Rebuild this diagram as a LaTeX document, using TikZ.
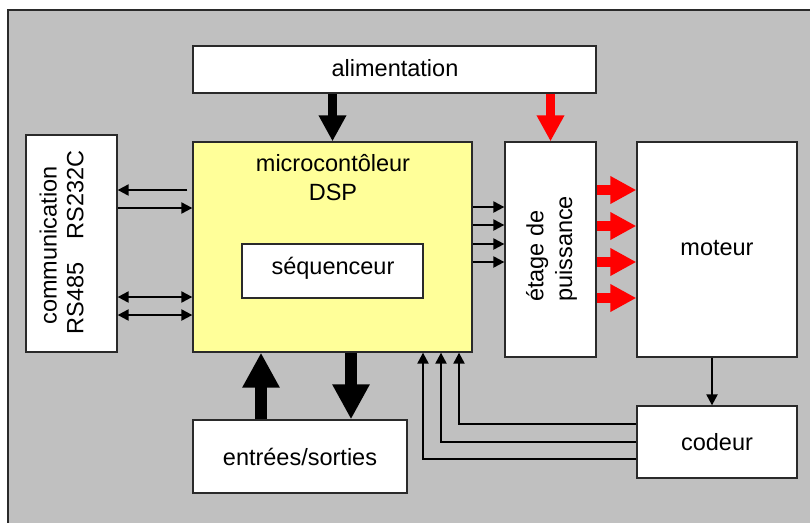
\documentclass[tikz,border=0pt]{standalone}
\usepackage{fontspec}
\setmainfont{Liberation Sans}
\usetikzlibrary{arrows.meta,calc}
\definecolor{bggray}{HTML}{C0C0C0}
\definecolor{dspyellow}{HTML}{FFFF99}
\definecolor{boxline}{HTML}{2A2A2A}
\definecolor{pwred}{HTML}{FF0000}
\begin{document}
\begin{tikzpicture}[x=1pt,y=-1pt,
  box/.style={draw=boxline,line width=1.3pt,fill=white,rectangle,inner sep=0pt},
  lbl/.style={font=\fontsize{23.5}{28}\selectfont,inner sep=0pt,anchor=base},
  rlbl/.style={font=\fontsize{23.5}{28}\selectfont,inner sep=0pt,rotate=90},
  tarr/.style={line width=2.2pt,-{Triangle[length=11pt,width=11pt]}},
  tdbl/.style={line width=2.2pt,{Triangle[length=11pt,width=11pt]}-{Triangle[length=11pt,width=11pt]}},
  fatblack/.style={line width=9pt,-{Triangle[length=26pt,width=26pt]}},
  fatred/.style={pwred,line width=10pt,-{Triangle[length=26pt,width=26pt]}},
  hugeblack/.style={line width=12pt,-{Triangle[length=35pt,width=35pt]}}]
\useasboundingbox (0,0) rectangle (810,522);
\filldraw[fill=bggray,draw=boxline,line width=1.5pt] (8,10) rectangle (830,540);

% boxes
\node[box,minimum width=403pt,minimum height=47pt] (alim) at (394.5,69.5) {};
\node[box,minimum width=91pt,minimum height=217pt] (comm) at (71.5,243.5) {};
\node[box,fill=dspyellow,minimum width=279pt,minimum height=210pt] (micro) at (332.5,247) {};
\node[box,minimum width=181pt,minimum height=54pt] (seq) at (332.5,271) {};
\node[box,minimum width=91pt,minimum height=215pt] (etage) at (550.5,249.5) {};
\node[box,minimum width=160pt,minimum height=215pt] (moteur) at (717,249.5) {};
\node[box,minimum width=160pt,minimum height=72pt] (codeur) at (717,442) {};
\node[box,minimum width=214pt,minimum height=73pt] (es) at (300,456.5) {};

% labels
\node[lbl] (talim) at (395,76) {alimentation};
\node[lbl] (tmicro1) at (333,171.7) {microcontôleur};
\node[lbl] (tmicro2) at (333,200) {DSP};
\node[lbl] (tseq) at (333,274) {séquenceur};
\node[lbl] (tmot) at (717,255) {moteur};
\node[lbl] (tcod) at (717,450) {codeur};
\node[lbl] (tes) at (300,465) {entrées/sorties};
\node[rlbl,anchor=base] (tcomm1) at (56.7,245.5) {communication};
\node[rlbl,anchor=base] (tcomm2) at (83.3,242.5) {RS485\hspace{23.5pt}RS232C};
\node[rlbl,anchor=base west] (tet1) at (543.3,302) {étage de};
\node[rlbl,anchor=base west] (tet2) at (572,302) {puissance};

% communication links
\draw[tarr] ($(micro.west |- 0,190)+(-5,0)$) -- (comm.east |- 0,190);
\draw[tarr] (comm.east |- 0,208) -- (micro.west |- 0,208);
\draw[tdbl] (comm.east |- 0,297) -- (micro.west |- 0,297);
\draw[tdbl] (comm.east |- 0,315) -- (micro.west |- 0,315);

% micro to power stage
\foreach \yy in {207,225,244,262}
  \draw[tarr] (micro.east |- 0,\yy) -- (etage.west |- 0,\yy);

% power stage to motor
\foreach \yy in {190,226,262,298}
  \draw[fatred] (etage.east |- 0,\yy) -- (moteur.west |- 0,\yy);

% supply
\draw[fatblack] (micro.north |- alim.south) -- (micro.north);
\draw[fatred,line width=9pt] (etage.north |- alim.south) -- (etage.north);

% inputs / outputs
\draw[hugeblack] (es.north -| 261,0) -- (micro.south -| 261,0);
\draw[hugeblack] (micro.south -| 351,0) -- (es.north -| 351,0);

% motor to encoder
\draw[tarr] (moteur.south -| 712,0) -- (codeur.north -| 712,0);

% encoder feedback
\draw[tarr] (codeur.west |- 0,424) -| (micro.south -| 459,0);
\draw[tarr] (codeur.west |- 0,442) -| (micro.south -| 441,0);
\draw[tarr] (codeur.west |- 0,459) -| (micro.south -| 423,0);
\end{tikzpicture}
\end{document}
